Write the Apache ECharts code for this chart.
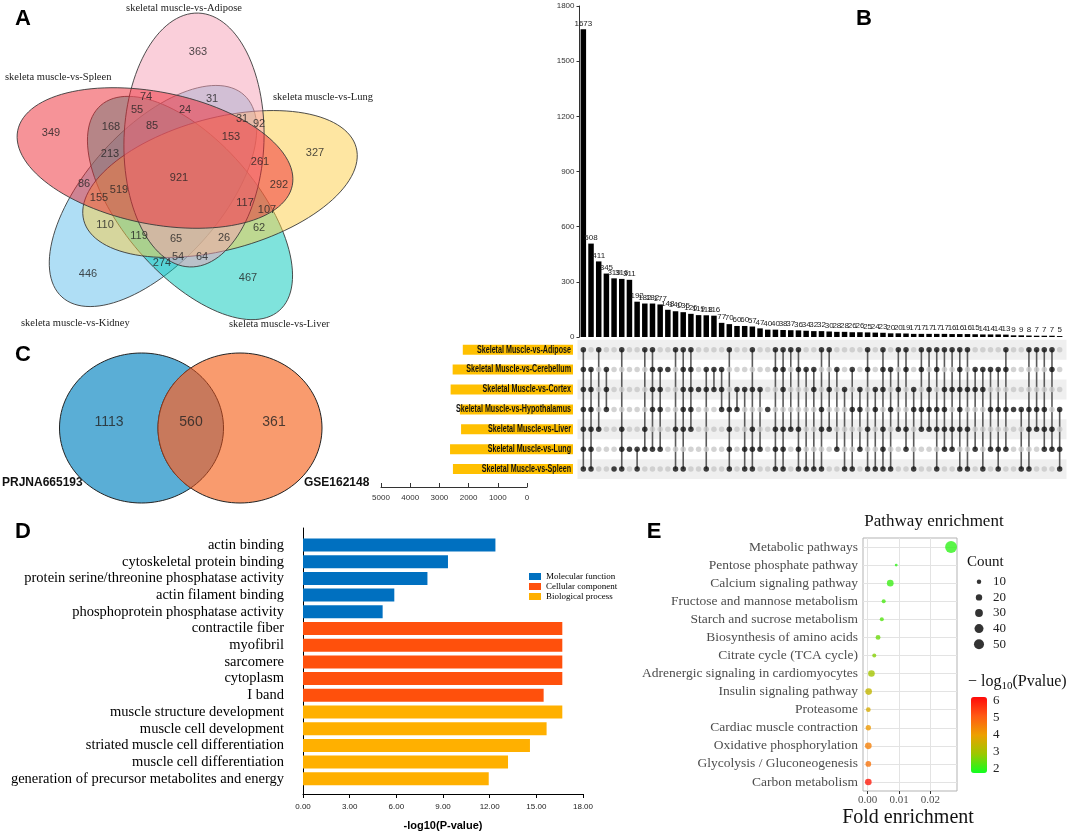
<!DOCTYPE html>
<html><head><meta charset="utf-8">
<script src="https://cdn.jsdelivr.net/npm/echarts@6/dist/echarts.min.js"></script>
<style>html,body{margin:0;padding:0;background:#fff}#c{width:1072px;height:832px}</style>
</head><body><div id="c"></div>
<script>
// ---------- DATA ----------
// Panel A : five-set Venn
const vennASetNames = ['skeletal muscle-vs-Adipose','skeleta muscle-vs-Spleen','skeleta muscle-vs-Lung','skeleta muscle-vs-Kidney','skeleta muscle-vs-Liver'];
const vennACounts = [363,349,327,446,467,74,31,55,24,31,92,168,85,153,213,261,921,292,86,519,155,117,107,110,62,119,65,26,54,64,274];
// Panel C : two-set Venn
const vennCSetNames = ['PRJNA665193','GSE162148'];
const vennCCounts = [1113,560,361];
// Panel B : UpSet
const upsetSets = ['Skeletal Muscle-vs-Adipose','Skeletal Muscle-vs-Cerebellum','Skeletal Muscle-vs-Cortex','Skeletal Muscle-vs-Hypothalamus','Skeletal Muscle-vs-Liver','Skeletal Muscle-vs-Lung','Skeletal Muscle-vs-Spleen'];
const upsetSetSizes = [3800,4150,4220,3900,3860,4240,4140];
const upsetCounts = [1673,508,411,345,319,316,311,192,182,182,177,148,140,135,126,119,118,116,77,70,60,60,57,47,40,40,38,37,36,34,32,32,30,28,28,26,26,25,24,23,20,20,19,17,17,17,17,17,16,16,16,15,14,14,14,13,9,9,8,7,7,7,5];
const upsetMembers = ['0123456','123456','04','123','6','0456','5','56','045','01235','1235','1','046','012346','01234','2','126','12','123','03456','23','256','02456','25','3','01456','012456','04','01456','16','126','0346','024','15','26','136','235','0146','236','012456','136','024','0145','236','0134','0234','01346','02345','0245','012346','0246','125','126','135','1356','0135','3','36','0346','034','0345','0145','356'];
// Panel D : GO enrichment
const goTerms = ['actin binding','cytoskeletal protein binding','protein serine/threonine phosphatase activity','actin filament binding','phosphoprotein phosphatase activity','contractile fiber','myofibril','sarcomere','cytoplasm','I band','muscle structure development','muscle cell development','striated muscle cell differentiation','muscle cell differentiation','generation of precursor metabolites and energy'];
const goValues = [12.37,9.32,8.0,5.87,5.12,16.67,16.67,16.67,16.67,15.47,16.67,15.66,14.59,13.18,11.94];
const goGroups = ['Molecular function','Molecular function','Molecular function','Molecular function','Molecular function','Cellular component','Cellular component','Cellular component','Cellular component','Cellular component','Biological process','Biological process','Biological process','Biological process','Biological process'];
const goGroupNames = ['Molecular function','Cellular component','Biological process'];
// Panel E : KEGG pathway enrichment
const pathways = ['Metabolic pathways','Pentose phosphate pathway','Calcium signaling pathway','Fructose and mannose metabolism','Starch and sucrose metabolism','Biosynthesis of amino acids','Citrate cycle (TCA cycle)','Adrenergic signaling in cardiomyocytes','Insulin signaling pathway','Proteasome','Cardiac muscle contraction','Oxidative phosphorylation','Glycolysis / Gluconeogenesis','Carbon metabolism'];
const foldEnrichment = [0.0266,0.0091,0.0072,0.0051,0.0045,0.0033,0.0021,0.0012,0.0003,0.0002,0.0002,0.0002,0.0002,0.0002];
const pathwayCount = [70,4,22,8,8,12,8,22,22,11,14,22,16,22];
const pathwayLogP = [2.0,2.0,2.1,2.2,2.3,2.5,2.7,3.0,3.4,3.7,4.1,4.5,4.7,6.0];
const countBreaks = [10,20,30,40,50];
const foldTicks = [0,0.01,0.02];

// ---------- LAYOUT / STYLE ----------
const SERIF = "'Liberation Serif','Times New Roman',serif";
const SANS = "'Liberation Sans',Arial,Helvetica,sans-serif";
// Venn A geometry (in panel pixel space): cx, cy, semi-major, semi-minor, angle
const vennAShapes = [[153,196,136,67,-48],[190,208,136,67,49],[220,184,141,66,-15],[194,140,127,70,92],[155,158,140,66,11.3]];
const vennAFills = ['rgba(95,190,235,0.5)','rgba(0,200,185,0.5)','rgba(253,205,70,0.5)','rgba(246,160,182,0.5)','rgba(238,40,50,0.5)'];
const vennALabelPos = [[198,52],[51,133],[315,153],[88,274],[248,278],[146,97],[212,99],[137,110],[185,110],[242,119],[259,124],[111,127],[152,126],[231,137],[110,154],[260,162],[179,178],[279,185],[84,184],[119,190],[99,198],[245,203],[267,210],[105,225],[259,228],[139,236],[176,239],[224,238],[178,257],[202,257],[162,263]];
const vennCShapes = [[141.5,428,82,75],[240,428,82,75]];
const vennCLabelPos = [[109,422],[191,422],[274,422]];

function ellipsePts(api, cx, cy, a, b, angDeg, n) {
  const t = angDeg * Math.PI / 180, c = Math.cos(t), s = Math.sin(t), pts = [];
  for (let i = 0; i < n; i++) {
    const u = 2 * Math.PI * i / n, x = a * Math.cos(u), y = b * Math.sin(u);
    pts.push(api.coord([cx + x * c - y * s, cy + x * s + y * c]));
  }
  return pts;
}
const sizeOf = c => 1.42 * Math.sqrt(c);

// matrix data
const matrixDots = [], matrixLines = [];
upsetMembers.forEach((m, c) => {
  const rows = m.split('').map(Number);
  for (let r = 0; r < upsetSets.length; r++) matrixDots.push([c, r, rows.indexOf(r) >= 0 ? 1 : 0]);
  matrixLines.push([c, Math.min(...rows), Math.max(...rows)]);
});
const colCats = upsetCounts.map((_, i) => String(i));

const goSeries = goGroupNames.map((g, gi) => ({
  name: g, type: 'bar', xAxisIndex: 6, yAxisIndex: 6, stack: 'go', barWidth: 13,
  itemStyle: {color: ['#0070c0', '#ff500c', '#ffb000'][gi]},
  data: goValues.map((v, i) => goGroups[i] === g ? v : '-')
}));

const txt = (x, y, text, font, align, color) => ({type: 'text', x: x, y: y, style: {text: text, font: font, textAlign: align || 'left', textVerticalAlign: 'middle', fill: color || '#111'}});
const plain = v => String(v);

const option = {
  animation: false,
  backgroundColor: '#fff',
  grid: [
    {left: 0, top: 0, width: 420, height: 520},
    {left: 579.5, top: 6, width: 484, height: 331},
    {left: 579.5, top: 339.75, width: 484, height: 139.3},
    {left: 428, top: 339.75, width: 145, height: 139.3},
    {left: 381, top: 480, width: 146, height: 7},
    {left: 303, top: 528, width: 280, height: 268},
    {left: 303, top: 536.65, width: 280, height: 250.5},
    {left: 863, top: 538, width: 94, height: 253, show: true, borderColor: '#b3b3b3', borderWidth: 1, backgroundColor: '#fff'},
    {left: 972, top: 574, width: 14, height: 78},
    {left: 971, top: 701, width: 16, height: 67.6}
  ],
  xAxis: [
    {gridIndex: 0, type: 'value', min: 0, max: 420, show: false},
    {gridIndex: 1, type: 'category', data: colCats, show: false},
    {gridIndex: 2, type: 'category', data: colCats, show: false},
    {gridIndex: 3, type: 'value', min: 0, max: 5000, inverse: true, show: false},
    {gridIndex: 4, type: 'value', min: 0, max: 5000, interval: 1000, inverse: true,
      axisLine: {lineStyle: {color: '#333'}}, axisTick: {inside: true, length: 4, lineStyle: {color: '#333'}},
      axisLabel: {fontSize: 8, color: '#333', margin: 7, fontFamily: SANS, formatter: plain}, splitLine: {show: false}},
    {gridIndex: 5, type: 'value', min: 0, max: 18, interval: 3,
      axisLine: {lineStyle: {color: '#000'}}, axisTick: {length: 4, lineStyle: {color: '#000'}},
      axisLabel: {fontSize: 8, color: '#222', margin: 9, fontFamily: SANS, formatter: v => v.toFixed(2)},
      splitLine: {show: false}, name: '-log10(P-value)', nameLocation: 'middle', nameGap: 26,
      nameTextStyle: {fontFamily: SANS, fontSize: 11, fontWeight: 'bold', color: '#000'}},
    {gridIndex: 6, type: 'value', min: 0, max: 18, show: false},
    {gridIndex: 7, type: 'value', min: -0.0015, max: 0.0285,
      axisLine: {show: false}, axisTick: {show: true, customValues: foldTicks, length: 3, lineStyle: {color: '#333'}},
      axisLabel: {customValues: foldTicks, fontFamily: SERIF, fontSize: 11, color: '#4d4d4d', margin: 4, formatter: v => v.toFixed(2)},
      splitLine: {show: false}},
    {gridIndex: 8, type: 'value', min: -1, max: 1, show: false},
    {gridIndex: 9, type: 'value', min: 0, max: 1, show: false}
  ],
  yAxis: [
    {gridIndex: 0, type: 'value', min: 0, max: 520, inverse: true, show: false},
    {gridIndex: 1, type: 'value', min: 0, max: 1800, interval: 300,
      axisLine: {show: true, lineStyle: {color: '#333'}}, axisTick: {show: true, length: 3, lineStyle: {color: '#333'}},
      axisLabel: {fontSize: 8, color: '#333', margin: 5, fontFamily: SANS, formatter: plain}, splitLine: {show: false}},
    {gridIndex: 2, type: 'category', data: upsetSets, inverse: true, show: false},
    {gridIndex: 3, type: 'category', data: upsetSets, inverse: true, show: false},
    {gridIndex: 4, type: 'value', show: false},
    {gridIndex: 5, type: 'value', min: 0, max: 1, axisLine: {show: true, lineStyle: {color: '#000'}},
      axisTick: {show: false}, axisLabel: {show: false}, splitLine: {show: false}},
    {gridIndex: 6, type: 'category', data: goTerms, inverse: true, axisLine: {show: false}, axisTick: {show: false},
      axisLabel: {interval: 0, fontFamily: SERIF, fontSize: 14.5, color: '#000', margin: 19}},
    {gridIndex: 7, type: 'category', data: pathways, inverse: true, axisLine: {show: false},
      axisTick: {show: true, interval: 0, alignWithLabel: true, length: 3, lineStyle: {color: '#333'}},
      axisLabel: {interval: 0, fontFamily: SERIF, fontSize: 13.5, color: '#4d4d4d', margin: 5}, splitLine: {show: false}},
    {gridIndex: 8, type: 'category', data: countBreaks.map(String), inverse: true, position: 'right',
      axisLine: {show: false}, axisTick: {show: false}, axisLabel: {interval: 0, fontFamily: SERIF, fontSize: 13, color: '#222', margin: 7}},
    {gridIndex: 9, type: 'value', min: 2, max: 6, interval: 1, position: 'right', axisLine: {show: false},
      axisTick: {show: false}, splitLine: {show: false}, axisLabel: {fontFamily: SERIF, fontSize: 13, color: '#222', margin: 6}}
  ],
  legend: {data: goGroupNames, orient: 'vertical', left: 529, top: 572, itemWidth: 12, itemHeight: 7, itemGap: 1,
    icon: 'rect', padding: 0, selectedMode: false, textStyle: {fontFamily: SERIF, fontSize: 9, color: '#000'}},
  visualMap: {type: 'continuous', seriesIndex: 14, dimension: 3, min: 1.75, max: 6.25,
    inRange: {color: ['#10ff20', '#9cc800', '#eda000', '#ff5a14', '#ff0a0a']},
    left: 971, top: 697, itemWidth: 16, itemHeight: 76, calculable: false, padding: 0, hoverLink: false, text: null},
  graphic: [
    txt(23, 19, 'A', 'bold 22px ' + SANS, 'center', '#000'),
    txt(864, 19, 'B', 'bold 22px ' + SANS, 'center', '#000'),
    txt(23, 355, 'C', 'bold 22px ' + SANS, 'center', '#000'),
    txt(23, 532, 'D', 'bold 22px ' + SANS, 'center', '#000'),
    txt(654, 532, 'E', 'bold 22px ' + SANS, 'center', '#000'),
    txt(184, 8, vennASetNames[0], '10.5px ' + SERIF, 'center', '#222'),
    txt(5, 77, vennASetNames[1], '10.5px ' + SERIF, 'left', '#222'),
    txt(273, 97, vennASetNames[2], '10.5px ' + SERIF, 'left', '#222'),
    txt(21, 323, vennASetNames[3], '10.5px ' + SERIF, 'left', '#222'),
    txt(229, 324, vennASetNames[4], '10.5px ' + SERIF, 'left', '#222'),
    txt(2, 483, vennCSetNames[0], 'bold 12px ' + SANS, 'left', '#111'),
    txt(304, 483, vennCSetNames[1], 'bold 12px ' + SANS, 'left', '#111'),
    txt(934, 522, 'Pathway enrichment', '17px ' + SERIF, 'center', '#111'),
    txt(908, 818, 'Fold enrichment', '20px ' + SERIF, 'center', '#111'),
    txt(967, 562, 'Count', '15px ' + SERIF, 'left', '#111'),
    {type: 'text', x: 968, y: 682, style: {text: '\u2212 log{s|10}(Pvalue)', font: '16px ' + SERIF, textAlign: 'left', textVerticalAlign: 'middle', fill: '#111',
      rich: {s: {fontSize: 11, fontFamily: SERIF, padding: [8, 0, 0, 0], fill: '#111'}}}}
  ],
  series: [
    {type: 'custom', xAxisIndex: 0, yAxisIndex: 0, data: vennAShapes, silent: true, z: 1,
      renderItem: (params, api) => {
        const d = vennAShapes[params.dataIndex];
        return {type: 'polygon', shape: {points: ellipsePts(api, d[0], d[1], d[2], d[3], d[4], 120)},
          style: {fill: vennAFills[params.dataIndex], stroke: '#3a3a3a', lineWidth: 0.9}};
      }},
    {type: 'scatter', xAxisIndex: 0, yAxisIndex: 0, symbolSize: 1, silent: true, z: 3,
      itemStyle: {color: 'rgba(0,0,0,0)'},
      data: vennALabelPos.map((p, i) => [p[0], p[1], vennACounts[i]]),
      label: {show: true, position: 'inside', formatter: p => String(p.value[2]), fontFamily: SANS, fontSize: 11, color: '#222'}},
    {type: 'custom', xAxisIndex: 0, yAxisIndex: 0, data: vennCShapes, silent: true, z: 1,
      renderItem: (params, api) => {
        const L = vennCShapes[0], R = vennCShapes[1];
        if (params.dataIndex === 0) {
          return {type: 'polygon', shape: {points: ellipsePts(api, L[0], L[1], L[2], L[3], 0, 120)}, style: {fill: '#5aaed6', stroke: '#222', lineWidth: 1}};
        }
        const xm = (L[0] + R[0]) / 2, th = Math.acos((xm - L[0]) / L[2]), pts = [];
        for (let i = 0; i <= 40; i++) { const u = -th + 2 * th * i / 40; pts.push(api.coord([L[0] + L[2] * Math.cos(u), L[1] + L[3] * Math.sin(u)])); }
        for (let i = 0; i <= 40; i++) { const u = Math.PI - th + 2 * th * i / 40; pts.push(api.coord([R[0] + R[2] * Math.cos(u), R[1] + R[3] * Math.sin(u)])); }
        return {type: 'group', children: [
          {type: 'polygon', shape: {points: ellipsePts(api, R[0], R[1], R[2], R[3], 0, 120)}, style: {fill: '#f99b6e', stroke: '#222', lineWidth: 1}},
          {type: 'polygon', shape: {points: pts}, style: {fill: '#c8795c', stroke: '#8a3a1e', lineWidth: 1}}
        ]};
      }},
    {type: 'scatter', xAxisIndex: 0, yAxisIndex: 0, symbolSize: 1, silent: true, z: 3,
      itemStyle: {color: 'rgba(0,0,0,0)'},
      data: vennCLabelPos.map((p, i) => [p[0], p[1], vennCCounts[i]]),
      label: {show: true, position: 'inside', formatter: p => String(p.value[2]), fontFamily: SANS, fontSize: 14, color: '#222'}},
    {type: 'bar', xAxisIndex: 1, yAxisIndex: 1, data: upsetCounts, barWidth: 5.5, itemStyle: {color: '#000'},
      label: {show: true, position: 'top', distance: 2, fontFamily: SANS, fontSize: 8, color: '#222'}},
    {type: 'custom', xAxisIndex: 2, yAxisIndex: 2, silent: true, z: 0, data: [[0, 0], [0, 2], [0, 4], [0, 6]],
      renderItem: (params, api) => {
        const p = api.coord([0, api.value(1)]), h = api.size([0, 1])[1], cs = params.coordSys;
        return {type: 'rect', shape: {x: cs.x - 2, y: p[1] - h / 2, width: cs.width + 5, height: h}, style: {fill: '#efefef'}};
      }},
    {type: 'custom', xAxisIndex: 2, yAxisIndex: 2, silent: true, z: 1, data: matrixLines,
      renderItem: (params, api) => {
        const p0 = api.coord([api.value(0), api.value(1)]), p1 = api.coord([api.value(0), api.value(2)]);
        return {type: 'line', shape: {x1: p0[0], y1: p0[1], x2: p1[0], y2: p1[1]}, style: {stroke: '#5a5a5a', lineWidth: 1.6}};
      }},
    {type: 'scatter', xAxisIndex: 2, yAxisIndex: 2, symbolSize: 5.5, silent: true, z: 2, data: matrixDots,
      itemStyle: {color: p => p.value[2] ? '#111' : '#c8c8c8'}},
    {type: 'bar', xAxisIndex: 3, yAxisIndex: 3, data: upsetSetSizes, barWidth: 10, itemStyle: {color: '#ffc000'}, silent: true},
    {type: 'custom', xAxisIndex: 3, yAxisIndex: 3, silent: true, z: 4, data: upsetSets.map((s, i) => [0, i]),
      renderItem: (params, api) => {
        const p = api.coord([0, api.value(1)]);
        return {type: 'text', x: p[0] - 2, y: p[1], scaleX: 0.68, scaleY: 1,
          style: {text: upsetSets[params.dataIndex], font: 'bold 10.5px ' + SANS, textAlign: 'right', textVerticalAlign: 'middle', fill: '#111'}};
      }},
    {type: 'scatter', xAxisIndex: 4, yAxisIndex: 4, data: [], silent: true},
    ...goSeries,
    {type: 'scatter', xAxisIndex: 7, yAxisIndex: 7, z: 3, silent: true,
      data: pathways.map((p, i) => [foldEnrichment[i], i, pathwayCount[i], pathwayLogP[i]]),
      symbolSize: v => sizeOf(v[2]),
      markLine: {silent: true, symbol: ['none', 'none'], z: 1, animation: false, label: {show: false},
        data: [
          ...[0.005, 0.015, 0.025].map(v => ({xAxis: v, lineStyle: {color: '#f2f2f2', width: 0.7, type: 'solid'}})),
          ...foldTicks.map(v => ({xAxis: v, lineStyle: {color: '#e3e3e3', width: 1, type: 'solid'}})),
          ...pathways.map(p => ({yAxis: p, lineStyle: {color: '#e3e3e3', width: 1, type: 'solid'}}))
        ]}},
    {type: 'scatter', xAxisIndex: 8, yAxisIndex: 8, silent: true, itemStyle: {color: '#000'},
      data: countBreaks.map((c, i) => [0, i, c]), symbolSize: v => sizeOf(v[2])}
  ]
};
const chart = echarts.init(document.getElementById('c'));
chart.setOption(option);
</script></body></html>
